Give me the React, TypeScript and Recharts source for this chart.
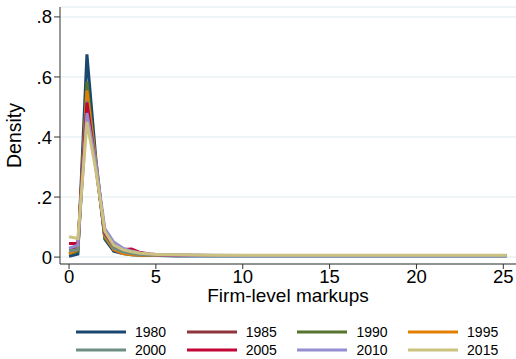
import { LineChart, Line, XAxis, YAxis, CartesianGrid, Legend } from "recharts"

// ── Data (kernel density of firm-level markups, by year) ──
const markup = [0, 0.51, 1.03, 1.54, 2.06, 2.57, 3.09, 3.6, 4.11, 4.63, 5.14, 6.17, 7.2, 8.23, 10.29, 15.43, 20.57, 25.2]

const d1980 = [0.003, 0.01, 0.675, 0.33, 0.06, 0.02, 0.012, 0.008, 0.006, 0.005, 0.005, 0.004, 0.004, 0.004, 0.004, 0.004, 0.004, 0.004]
const d1985 = [0.028, 0.03, 0.56, 0.31, 0.07, 0.03, 0.02, 0.015, 0.01, 0.008, 0.007, 0.006, 0.005, 0.005, 0.005, 0.005, 0.005, 0.005]
const d1990 = [0.01, 0.02, 0.585, 0.31, 0.065, 0.025, 0.015, 0.01, 0.008, 0.007, 0.006, 0.005, 0.005, 0.005, 0.005, 0.005, 0.005, 0.005]
const d1995 = [0.012, 0.025, 0.555, 0.32, 0.07, 0.025, 0.012, 0.008, 0.006, 0.006, 0.005, 0.005, 0.005, 0.005, 0.005, 0.005, 0.005, 0.005]
const d2000 = [0.02, 0.025, 0.52, 0.31, 0.075, 0.03, 0.018, 0.012, 0.009, 0.007, 0.006, 0.005, 0.005, 0.005, 0.005, 0.005, 0.005, 0.005]
const d2005 = [0.045, 0.045, 0.515, 0.3, 0.08, 0.04, 0.025, 0.027, 0.015, 0.01, 0.008, 0.006, 0.006, 0.005, 0.005, 0.005, 0.005, 0.005]
const d2010 = [0.03, 0.04, 0.48, 0.31, 0.095, 0.05, 0.03, 0.02, 0.014, 0.01, 0.008, 0.007, 0.006, 0.006, 0.005, 0.005, 0.005, 0.005]
const d2015 = [0.068, 0.062, 0.45, 0.29, 0.085, 0.04, 0.025, 0.018, 0.013, 0.01, 0.009, 0.008, 0.007, 0.006, 0.006, 0.006, 0.006, 0.006]

const xTicks = [0, 5, 10, 15, 20, 25]
const yTicks = [0, 0.2, 0.4, 0.6, 0.8]

// ── Series (Stata s2color order) ──
const SERIES = [
  { key: "y1980", name: "1980", color: "#1a476f", values: d1980 },
  { key: "y1985", name: "1985", color: "#90353b", values: d1985 },
  { key: "y1990", name: "1990", color: "#55752f", values: d1990 },
  { key: "y1995", name: "1995", color: "#e37e00", values: d1995 },
  { key: "y2000", name: "2000", color: "#6e8e84", values: d2000 },
  { key: "y2005", name: "2005", color: "#c10534", values: d2005 },
  { key: "y2010", name: "2010", color: "#938dd2", values: d2010 },
  { key: "y2015", name: "2015", color: "#cac27e", values: d2015 },
]

const data = markup.map((x, i) => {
  const row: any = { x }
  SERIES.forEach((s) => { row[s.key] = s.values[i] })
  return row
})

const FONT = "'Liberation Sans', Arial, Helvetica, sans-serif"

function yFormat(v: number) {
  if (v === 0) return "0"
  return v.toFixed(1).replace(/^0/, "")
}

// ── Legend: 2 rows x 4 columns ──
function LegendGrid() {
  return (
    <div
      style={{
        height: 45,
        boxSizing: "border-box",
        paddingTop: 9,
        paddingLeft: 76,
        display: "grid",
        gridTemplateColumns: "repeat(4, 110.7px)",
        gridAutoRows: "18px",
        fontFamily: FONT,
        fontSize: 14,
        color: "#000",
      }}
    >
      {SERIES.map((s) => (
        <div key={s.key} style={{ display: "flex", alignItems: "center" }}>
          <svg width={50} height={6} style={{ marginRight: 9 }}>
            <line x1={0} y1={3} x2={50} y2={3} stroke={s.color} strokeWidth={3} />
          </svg>
          <span>{s.name}</span>
        </div>
      ))}
    </div>
  )
}

export default function App() {
  return (
    <div style={{ position: "absolute", left: 0, top: 0, width: 516, height: 359, background: "#fff" }}>
      <LineChart width={516} height={359} data={data} margin={{ top: 7, right: 0, left: 0, bottom: 0 }}>
        <CartesianGrid vertical={false} stroke="#eaf2f3" strokeWidth={1.5} />
        <XAxis
          dataKey="x"
          type="number"
          domain={[-0.52, 25.73]}
          ticks={xTicks}
          allowDataOverflow
          height={50}
          tickSize={5}
          tickMargin={1}
          stroke="#333"
          tick={{ fontSize: 18.5, fill: "#000", fontFamily: FONT }}
          label={{ value: "Firm-level markups", position: "insideTop", offset: 25, fontSize: 19, fill: "#000", fontFamily: FONT }}
        />
        <YAxis
          type="number"
          domain={[-0.023, 0.833]}
          ticks={yTicks}
          allowDataOverflow
          width={60}
          tickSize={6}
          tickMargin={2}
          stroke="#333"
          tickFormatter={yFormat}
          tick={{ fontSize: 18.5, fill: "#000", fontFamily: FONT }}
          label={{ value: "Density", angle: -90, position: "insideLeft", offset: 14, fontSize: 19.5, fill: "#000", fontFamily: FONT, style: { textAnchor: "middle" } }}
        />
        <Legend verticalAlign="bottom" align="left" content={() => <LegendGrid />} />
        {SERIES.map((s) => (
          <Line
            key={s.key}
            dataKey={s.key}
            name={s.name}
            type="linear"
            stroke={s.color}
            strokeWidth={3}
            dot={false}
            isAnimationActive={false}
          />
        ))}
      </LineChart>
    </div>
  )
}
